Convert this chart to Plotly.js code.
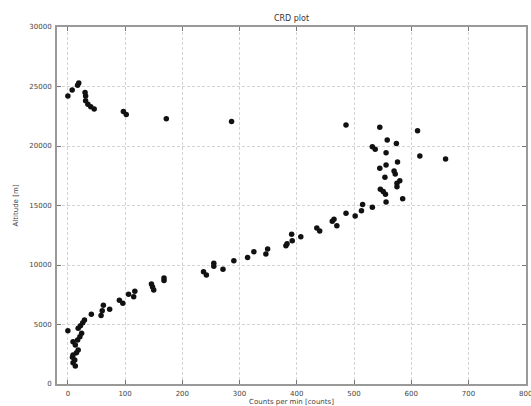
<!DOCTYPE html>
<html>
<head>
<meta charset="utf-8">
<script src="https://cdn.plot.ly/plotly-3.0.1.min.js"></script>
<style>html,body{margin:0;padding:0;background:#fff;}#chart{width:531px;height:406px;}</style>
</head>
<body>
<div id="chart"></div>
<script>
// Counts per min [counts]
const counts = [
  0, 18, 22, 26, 29, 24, 21, 17, 9, 13, 18, 15, 9, 8, 12, 9, 13,
  41, 58, 62, 73, 60, 90, 96, 106, 117, 115, 146, 148, 150, 168, 168,
  237, 242, 255, 255, 271, 290, 314, 325, 346, 349, 381, 383, 391, 392, 407,
  435, 440, 462, 465, 470, 486, 502, 513, 515, 532, 556, 585, 555, 551, 546,
  575, 575, 580, 554, 572, 570, 545, 556, 576, 660, 615, 556, 537, 532, 574,
  558, 611, 545, 486, 286, 172, 102, 97, 46, 40, 35, 31, 31, 30, 19, 17, 7.5, 0
];
// Altitude [m]
const altitude = [
  4480, 4680, 4900, 5150, 5380, 4260, 3980, 3700, 3560, 3280, 2860, 2630, 2440, 2240, 2020, 1790, 1510,
  5860, 5750, 6620, 6290, 6150, 7030, 6780, 7550, 7800, 7330, 8400, 8150, 7900, 8900, 8700,
  9440, 9160, 10150, 9900, 9650, 10360, 10620, 11120, 10920, 11340, 11620, 11780, 12580, 12040, 12380,
  13100, 12850, 13680, 13850, 13300, 14340, 14120, 14560, 15080, 14850, 15300, 15570, 15950, 16170, 16370,
  16580, 16860, 17080, 17370, 17650, 17900, 18120, 18400, 18650, 18900, 19160, 19440, 19720, 19940, 20220,
  20500, 21290, 21570, 21760, 22050, 22300, 22650, 22900, 23100, 23300, 23500, 23800, 24200, 24500, 25300, 25100, 24700, 24200
];
const xTicks = [0, 100, 200, 300, 400, 500, 600, 700, 800];
const yTicks = [0, 5000, 10000, 15000, 20000, 25000, 30000];

const font = {family: 'DejaVu Sans, sans-serif', size: 7, color: '#444'};
const axisCommon = {
  showline: true, linecolor: '#999', linewidth: 2, mirror: 'ticks',
  ticks: 'inside', ticklen: 4, tickcolor: '#777', tickwidth: 1,
  showgrid: true, gridcolor: '#d4d4d4', griddash: '3px,2px', gridwidth: 1,
  zeroline: false, tickfont: font, tickmode: 'array', ticklabeloverflow: 'allow'
};

Plotly.newPlot('chart', [{
  x: counts, y: altitude, type: 'scatter', mode: 'markers',
  marker: {color: '#111', size: 5.5}
}], {
  width: 531, height: 406,
  margin: {l: 57, r: 5, t: 27, b: 22},
  paper_bgcolor: '#fff', plot_bgcolor: '#fff',
  showlegend: false,
  title: {text: 'CRD plot', font: {family: 'DejaVu Sans, sans-serif', size: 8, color: '#333'}, x: 0.5, xref: 'paper', y: 0.955, yanchor: 'middle'},
  xaxis: Object.assign({}, axisCommon, {
    range: [-19, 800.5], tickvals: xTicks, ticktext: xTicks.map(String),
    ticklabelstandoff: 2, automargin: false,
    title: {text: 'Counts per min [counts]', font: font, standoff: 1}
  }),
  yaxis: Object.assign({}, axisCommon, {
    range: [0, 30000], tickvals: yTicks, ticktext: yTicks.map(String),
    ticklabelstandoff: 2, automargin: false,
    title: {text: 'Altitude [m]', font: font, standoff: 10}
  })
}, {displayModeBar: false, staticPlot: true});
</script>
</body>
</html>
